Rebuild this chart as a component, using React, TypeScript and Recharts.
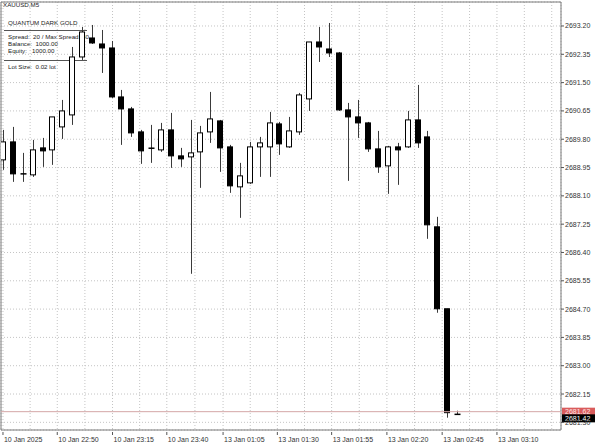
import React from 'react';
import {
  ComposedChart,
  Bar,
  XAxis,
  YAxis,
  CartesianGrid,
  ReferenceLine,
  ReferenceArea,
} from 'recharts';

// XAUUSD M5 candles
const opens = [
  2689.18, 2689.72, 2688.76, 2688.73, 2689.54, 2689.48, 2690.17, 2690.53, 2692.27, 2692.84,
  2692.66, 2692.54, 2691.07, 2690.71, 2690.02, 2689.53, 2689.48, 2690.08, 2689.3, 2689.27,
  2689.42, 2690.02, 2690.35, 2689.57, 2688.37, 2688.49, 2689.57, 2689.57, 2690.26, 2689.57,
  2690.02, 2691.01, 2692.72, 2692.51, 2692.39, 2690.68, 2690.47, 2690.29, 2689.51, 2689.0,
  2689.57, 2689.57, 2690.38, 2689.87, 2687.17, 2684.71, 2681.54,
];
const closes = [
  2689.72, 2688.76, 2688.73, 2689.48, 2689.45, 2690.47, 2690.65, 2692.27, 2693.02, 2692.69,
  2692.54, 2691.07, 2690.71, 2689.99, 2689.45, 2689.5, 2690.08, 2689.3, 2689.21, 2689.39,
  2689.99, 2690.41, 2689.54, 2688.4, 2688.7, 2689.57, 2689.69, 2690.29, 2689.66, 2690.05,
  2691.13, 2692.72, 2692.57, 2692.39, 2690.68, 2690.47, 2690.29, 2689.51, 2688.97, 2689.57,
  2689.48, 2690.38, 2689.69, 2687.23, 2684.71, 2681.59, 2681.53,
];
const highs = [
  2690.08, 2690.17, 2689.39, 2689.78, 2689.84, 2690.47, 2690.98, 2692.57, 2693.17, 2693.23,
  2693.08, 2692.75, 2691.28, 2690.77, 2690.08, 2690.23, 2690.29, 2690.59, 2689.54, 2690.38,
  2690.2, 2691.22, 2690.38, 2689.63, 2689.09, 2689.72, 2689.87, 2690.62, 2690.32, 2690.47,
  2691.19, 2692.72, 2693.17, 2693.29, 2692.42, 2690.89, 2690.98, 2690.32, 2690.05, 2689.6,
  2689.69, 2690.65, 2691.43, 2690.05, 2687.47, 2684.71, 2681.65,
];
const lows = [
  2688.88, 2688.52, 2688.52, 2688.67, 2688.97, 2689.03, 2689.81, 2690.23, 2692.18, 2692.66,
  2691.79, 2691.04, 2689.63, 2689.87, 2689.06, 2689.09, 2689.42, 2688.94, 2688.97, 2685.76,
  2688.34, 2689.69, 2688.82, 2688.19, 2687.44, 2688.46, 2688.67, 2688.67, 2689.33, 2689.54,
  2689.93, 2690.65, 2692.12, 2692.27, 2690.65, 2688.55, 2689.84, 2689.42, 2688.79, 2688.16,
  2688.43, 2689.54, 2689.54, 2686.81, 2684.59, 2681.44, 2681.53,
];

const timeLabels = [
  '10 Jan 2025', '10 Jan 22:50', '10 Jan 23:15', '10 Jan 23:40', '13 Jan 01:05',
  '13 Jan 01:30', '13 Jan 01:55', '13 Jan 02:20', '13 Jan 02:45', '13 Jan 03:10',
];
// bar index where each time label sits
const timeLabelBars = [0, 5.5, 11.1, 16.6, 22.3, 27.8, 33.3, 38.9, 44.5, 50.05];

const priceTicks = [
  2693.2, 2692.35, 2691.5, 2690.65, 2689.8, 2688.95, 2688.1, 2687.25, 2686.4, 2685.55,
  2684.7, 2683.85, 2683.0, 2682.15, 2681.3,
];
const askPrice = 2681.62;
const bidPrice = 2681.42;

const data = opens.map((o, i) => ({
  idx: i,
  open: o,
  close: closes[i],
  high: highs[i],
  low: lows[i],
  range: [lows[i], highs[i]],
}));

// grid lines at every label and half way between
const gridTicks: number[] = [];
timeLabelBars.forEach((t, i) => {
  gridTicks.push(t);
  const next = i < timeLabelBars.length - 1 ? timeLabelBars[i + 1] : t + 5.55;
  gridTicks.push((t + next) / 2);
});
gridTicks.push(timeLabelBars[timeLabelBars.length - 1] + 5.55);

const X_DOMAIN: [number, number] = [-0.2, 56.54];
const Y_DOMAIN: [number, number] = [2681.07, 2693.92];
const FONT = '"Liberation Sans", Arial, sans-serif';

const Candle = (props: any) => {
  const { x, y, width, height, payload } = props;
  const top = height >= 0 ? y : y + height;
  const h = Math.abs(height);
  const { open, close, high, low } = payload;
  const k = h / (high - low);
  const cx = Math.round(x + width / 2) + 0.5;
  const bTop = top + (high - Math.max(open, close)) * k;
  const bBot = top + (high - Math.min(open, close)) * k;
  const up = close > open;
  return (
    <g>
      <line x1={cx} x2={cx} y1={top} y2={top + h} stroke="#3a3a3a" strokeWidth={1} />
      {bBot - bTop < 1.5 ? (
        <line x1={cx - 3} x2={cx + 3} y1={bTop} y2={bTop} stroke="#000" strokeWidth={1.5} />
      ) : (
        <rect
          x={cx - 3}
          y={bTop}
          width={5}
          height={bBot - bTop}
          fill={up ? '#ffffff' : '#000000'}
          stroke="#000"
          strokeWidth={1}
        />
      )}
    </g>
  );
};

const TimeTick = (props: any) => {
  const { x, y, payload } = props;
  const i = timeLabelBars.indexOf(payload.value);
  if (i < 0) return null;
  return (
    <g>
      <line x1={x} x2={x} y1={y} y2={y + 3} stroke="#555" />
      <text x={x + 1} y={y + 10} fontSize={7} fontFamily={FONT} fill="#333" textAnchor="start">
        {timeLabels[i]}
      </text>
    </g>
  );
};

const priceTag = (fill: string, textFill: string, text: string) => (props: any) => {
  const vb = props.viewBox || {};
  const xr = (vb.x || 0) + (vb.width || 0) + 1;
  const yc = vb.y || 0;
  return (
    <g>
      <rect x={xr} y={yc - 4} width={34} height={8} fill={fill} />
      <text x={xr + 3} y={yc} dy="0.35em" fontSize={7} fontFamily={FONT} fill={textFill}>
        {text}
      </text>
    </g>
  );
};

const infoStyle: React.CSSProperties = {
  position: 'absolute',
  left: 8,
  fontFamily: FONT,
  fontSize: 6.2,
  lineHeight: '6.2px',
  color: '#222',
  whiteSpace: 'pre',
};

export default function App() {
  return (
    <div style={{ position: 'absolute', left: 0, top: 0, width: 595, height: 444, background: '#fff' }}>
      <div style={{ ...infoStyle, left: 3, top: 2 }}>XAUUSD,M5</div>
      <div style={{ ...infoStyle, top: 20 }}>QUANTUM DARK GOLD</div>
      <div style={{ position: 'absolute', left: 4, top: 30, width: 83, height: 1, background: '#555' }} />
      <div style={{ ...infoStyle, top: 34 }}>{'Spread:  20 / Max Spread: 40'}</div>
      <div style={{ ...infoStyle, top: 41 }}>{'Balance:  1000.00'}</div>
      <div style={{ ...infoStyle, top: 48 }}>{'Equity:   1000.00'}</div>
      <div style={{ position: 'absolute', left: 4, top: 60, width: 83, height: 1, background: '#555' }} />
      <div style={{ ...infoStyle, top: 64 }}>{'Lot Size:  0.02 lot'}</div>
      <div style={{ position: 'absolute', left: 0, top: 0 }}>
        <ComposedChart
          width={595}
          height={444}
          data={data}
          margin={{ top: 2, right: 0, left: 1, bottom: 0 }}
        >
          <CartesianGrid stroke="#c4c4c4" strokeDasharray="1 2" />
          <XAxis
            type="number"
            dataKey="idx"
            domain={X_DOMAIN}
            ticks={gridTicks}
            interval={0}
            allowDataOverflow
            height={14}
            tickSize={0}
            tickLine={false}
            axisLine={false}
            tick={<TimeTick />}
          />
          <YAxis
            orientation="right"
            domain={Y_DOMAIN}
            ticks={priceTicks}
            interval={0}
            allowDataOverflow
            width={34}
            tickSize={3}
            tickMargin={1}
            axisLine={false}
            tickLine={{ stroke: '#555' }}
            tick={{ fontSize: 7, fill: '#333', fontFamily: FONT }}
            tickFormatter={(v: number) => v.toFixed(2)}
          />
          <ReferenceArea
            x1={X_DOMAIN[0]}
            x2={X_DOMAIN[1]}
            y1={Y_DOMAIN[0]}
            y2={Y_DOMAIN[1]}
            fill="none"
            fillOpacity={0}
            stroke="#7a7a7a"
            strokeWidth={1}
          />
          <ReferenceLine
            y={askPrice}
            stroke="#d4a6a6"
            strokeWidth={1}
            label={priceTag('#d95c5c', '#fde6e6', askPrice.toFixed(2))}
          />
          <ReferenceLine
            y={bidPrice}
            stroke="none"
            strokeOpacity={0}
            label={priceTag('#000000', '#ffffff', bidPrice.toFixed(2))}
          />
          <Bar dataKey="range" barSize={6} shape={<Candle />} isAnimationActive={false} />
        </ComposedChart>
      </div>
    </div>
  );
}
